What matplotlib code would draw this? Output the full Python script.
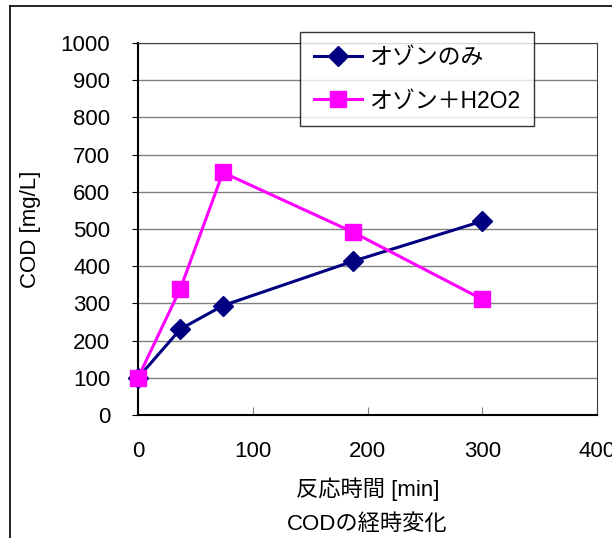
import matplotlib.pyplot as plt
from matplotlib.lines import Line2D

plt.rcParams['font.family'] = ['Liberation Sans', 'Noto Sans CJK JP', 'DejaVu Sans']

time_min = [0, 37, 74, 187, 300]
ozone_only = [100, 231, 294, 413, 521]
ozone_h2o2 = [100, 340, 652, 492, 311]

y_ticks = [0, 100, 200, 300, 400, 500, 600, 700, 800, 900, 1000]
x_ticks = [0, 100, 200, 300, 400]

fig = plt.figure(figsize=(6.12, 5.38), dpi=100)
ax = fig.add_axes([138 / 612, 1 - 415 / 538, (597 - 138) / 612, (415 - 43) / 538])

ax.plot(time_min, ozone_only, color='#000080', lw=2.2, marker='D', ms=10,
        label='オゾンのみ', clip_on=False, zorder=3)
ax.plot(time_min, ozone_h2o2, color='#FF00FF', lw=2.2, marker='s', ms=11,
        label='オゾン＋H2O2', clip_on=False, zorder=3)

ax.set_xlim(0, 400)
ax.set_ylim(0, 1000)
ax.set_yticks(y_ticks)
ax.set_xticks(x_ticks)
ax.yaxis.grid(True, color='#808080', lw=1)
ax.set_axisbelow(True)
ax.tick_params(axis='y', direction='out', length=4, pad=16, labelsize=16)
ax.tick_params(axis='x', direction='in', length=6, pad=19, labelsize=16, color='#808080')
for s in ax.spines.values():
    s.set_color('#404040')
ax.spines['left'].set_color('black')
ax.spines['bottom'].set_color('black')
ax.spines['left'].set_linewidth(1.5)
ax.spines['bottom'].set_linewidth(1.5)

ax.set_xlabel('反応時間 [min]', fontsize=16, labelpad=11)
ax.set_ylabel('COD [mg/L]', fontsize=16, labelpad=14)

leg = ax.legend(loc='upper left', bbox_to_anchor=(300 / 612, 1 - 32 / 538),
                bbox_transform=fig.transFigure, fontsize=16.5, frameon=True,
                fancybox=False, edgecolor='black', borderpad=0.6,
                handlelength=2.1, handletextpad=0.3, labelspacing=0.9,
                borderaxespad=0)
leg.get_frame().set_linewidth(1)

fig.text(367 / 612, 1 - 525 / 538, 'CODの経時変化', ha='center', va='center', fontsize=16)

# outer chart frame (cropped)
fig.add_artist(Line2D([10 / 612, 10 / 612], [0, 1 - 6 / 538], color='black', lw=1.2))
fig.add_artist(Line2D([10 / 612, 1], [1 - 6 / 538, 1 - 6 / 538], color='black', lw=1.2))

fig.savefig('out.png', dpi=100)
